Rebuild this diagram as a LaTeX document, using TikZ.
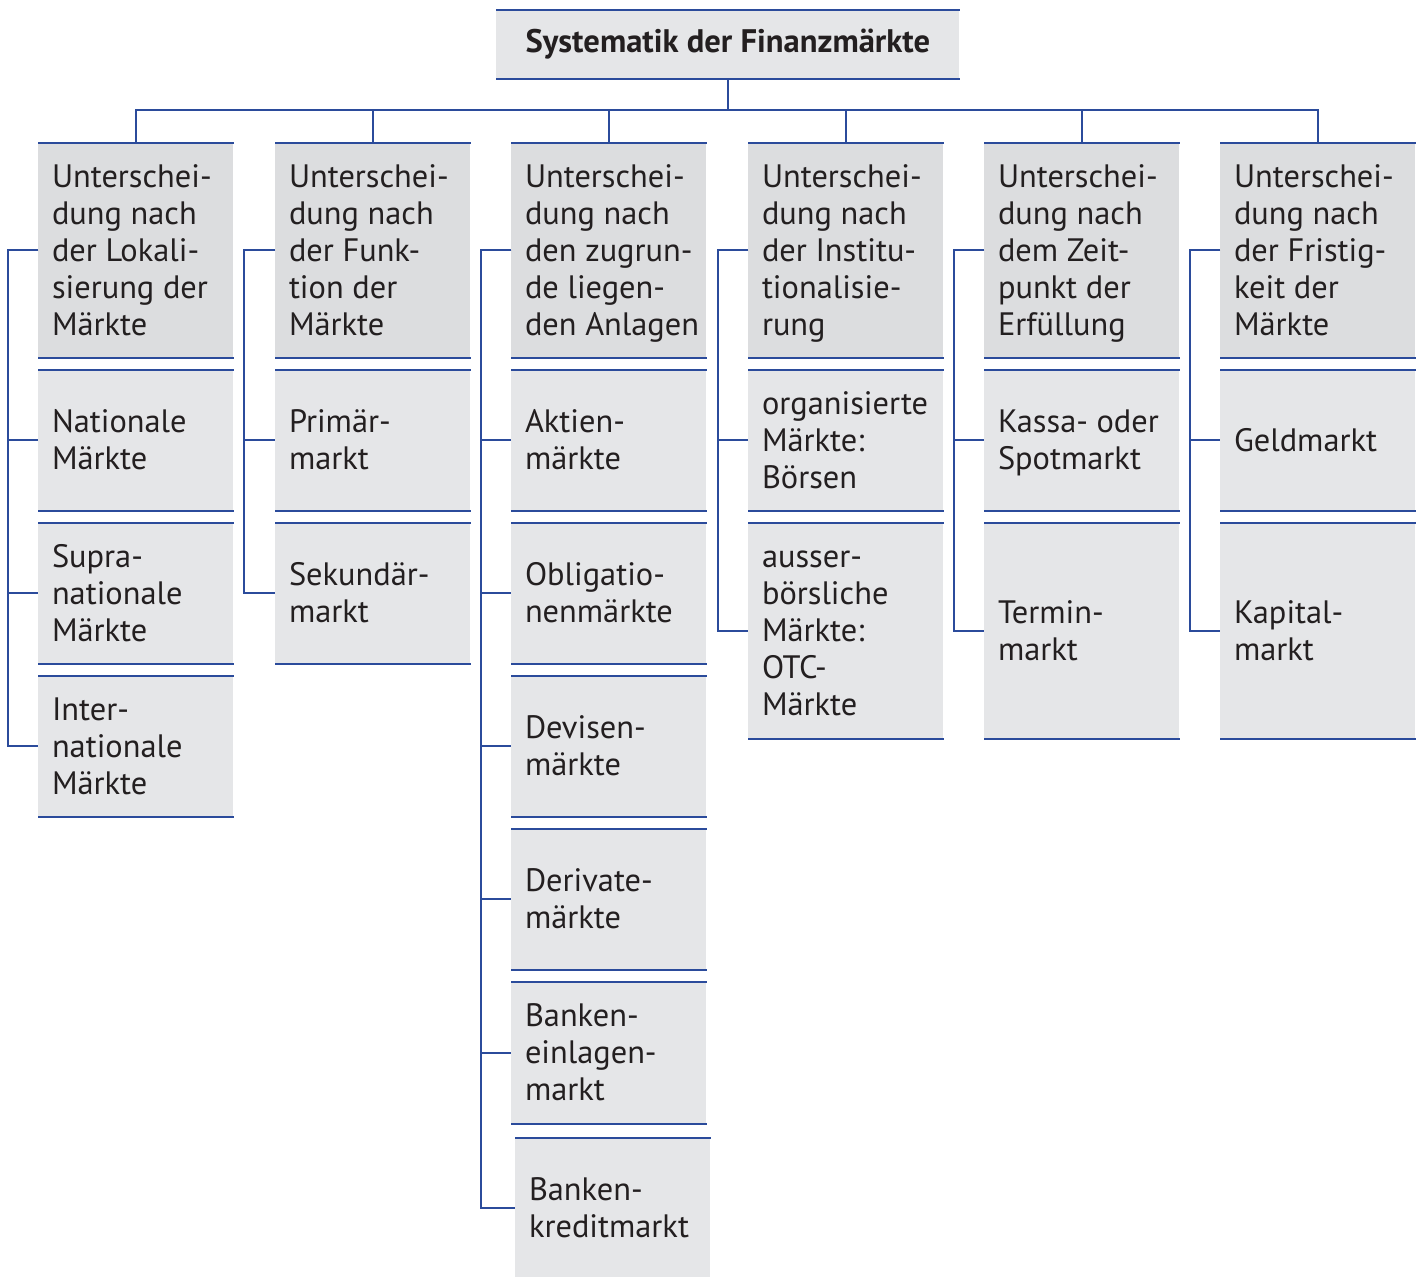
\documentclass[tikz,border=0pt]{standalone}
\usepackage{fontspec}
\setmainfont{PT Sans}
\definecolor{lineblue}{HTML}{2B4B9B}
\definecolor{hdgray}{HTML}{DCDDDF}
\definecolor{chgray}{HTML}{E5E6E8}
\definecolor{ink}{HTML}{231F20}
\tikzset{
  bl/.style={draw=lineblue, line width=1pt},
  hdbox/.style={fill=hdgray, inner sep=0pt, minimum width=97.5pt},
  chbox/.style={fill=chgray, inner sep=0pt, minimum width=97.5pt},
  txt/.style={inner sep=0pt, align=left, text=ink, font=\fontsize{16.2}{18.5}\selectfont},
}
\newcommand\mkbox[6]{%
  \node[#2, minimum height=#5*0.5pt, anchor=north west] (#1) at (#3,#4) {};
  \node[txt, anchor=west] (#1t) at ([xshift=6.8pt,yshift=-1.8pt]#1.west) {\strut#6\strut};
  \draw[bl] (#1.north west) -- (#1.north east) (#1.south west) -- (#1.south east);
}
\begin{document}
\begin{tikzpicture}[x=0.5pt, y=-0.5pt]
\useasboundingbox (0,0) rectangle (1418,1277);
% title
\node[chbox, minimum width=231.5pt, minimum height=34pt, anchor=north west,
      font=\bfseries\fontsize{16.3}{18.5}\selectfont, text=ink] (title) at (496,10) {Systematik der Finanzmärkte};
\draw[bl] (title.north west) -- (title.north east) (title.south west) -- (title.south east);
% headers
\mkbox{h1}{hdbox}{38}{143}{214}{Unterschei-\\dung nach\\der Lokali-\\sierung der\\Märkte}
\mkbox{h2}{hdbox}{275}{143}{214}{Unterschei-\\dung nach\\der Funk-\\tion der\\Märkte}
\mkbox{h3}{hdbox}{511}{143}{214}{Unterschei-\\dung nach\\den zugrun-\\de liegen-\\den Anlagen}
\mkbox{h4}{hdbox}{748}{143}{214}{Unterschei-\\dung nach\\der Institu-\\tionalisie-\\rung}
\mkbox{h5}{hdbox}{984}{143}{214}{Unterschei-\\dung nach\\dem Zeit-\\punkt der\\Erfüllung}
\mkbox{h6}{hdbox}{1220}{143}{214}{Unterschei-\\dung nach\\der Fristig-\\keit der\\Märkte}
% column 1
\mkbox{c11}{chbox}{38}{370}{140}{Nationale\\Märkte}
\mkbox{c12}{chbox}{38}{523}{140}{Supra-\\nationale\\Märkte}
\mkbox{c13}{chbox}{38}{676}{140}{Inter-\\nationale\\Märkte}
% column 2
\mkbox{c21}{chbox}{275}{370}{140}{Primär-\\markt}
\mkbox{c22}{chbox}{275}{523}{140}{Sekundär-\\markt}
% column 3
\mkbox{c31}{chbox}{511}{370}{140}{Aktien-\\märkte}
\mkbox{c32}{chbox}{511}{523}{140}{Obligatio-\\nenmärkte}
\mkbox{c33}{chbox}{511}{676}{140}{Devisen-\\märkte}
\mkbox{c34}{chbox}{511}{829}{140}{Derivate-\\märkte}
\mkbox{c35}{chbox}{511}{982}{141}{Banken-\\einlagen-\\markt}
\node[chbox, minimum height=69.5pt, anchor=north west] (c36) at (515,1138) {};
\node[txt, anchor=west] (c36t) at ([xshift=6.8pt,yshift=-1.8pt]c36.west) {\strut Banken-\\kreditmarkt\strut};
\draw[bl] (c36.north west) -- (c36.north east);
% column 4
\mkbox{c41}{chbox}{748}{370}{140}{organisierte\\Märkte:\\Börsen}
\mkbox{c42}{chbox}{748}{523}{215}{ausser-\\börsliche\\Märkte:\\OTC-\\Märkte}
% column 5
\mkbox{c51}{chbox}{984}{370}{140}{Kassa- oder\\Spotmarkt}
\mkbox{c52}{chbox}{984}{523}{215}{Termin-\\markt}
% column 6
\mkbox{c61}{chbox}{1220}{370}{140}{Geldmarkt}
\mkbox{c62}{chbox}{1220}{523}{215}{Kapital-\\markt}
% bus
\coordinate (bus) at (0,110);
\draw[bl] (title.south) -- (title.south |- bus);
\draw[bl] (h1.north) -- (h1.north |- bus) -- (h6.north |- bus) -- (h6.north);
\foreach \h in {h2,h3,h4,h5} \draw[bl] (\h.north) -- (\h.north |- bus);
% side connectors
\foreach \c in {c11,c12,c13} \draw[bl] (h1.west) -- ++(-30,0) |- (\c.west);
\foreach \c in {c21,c22} \draw[bl] (h2.west) -- ++(-31,0) |- (\c.west);
\foreach \c in {c31,c32,c33,c34,c35,c36} \draw[bl] (h3.west) -- ++(-30,0) |- (\c.west);
\foreach \c in {c41,c42} \draw[bl] (h4.west) -- ++(-30,0) |- (\c.west);
\foreach \c in {c51,c52} \draw[bl] (h5.west) -- ++(-30,0) |- (\c.west);
\foreach \c in {c61,c62} \draw[bl] (h6.west) -- ++(-30,0) |- (\c.west);
\end{tikzpicture}
\end{document}
